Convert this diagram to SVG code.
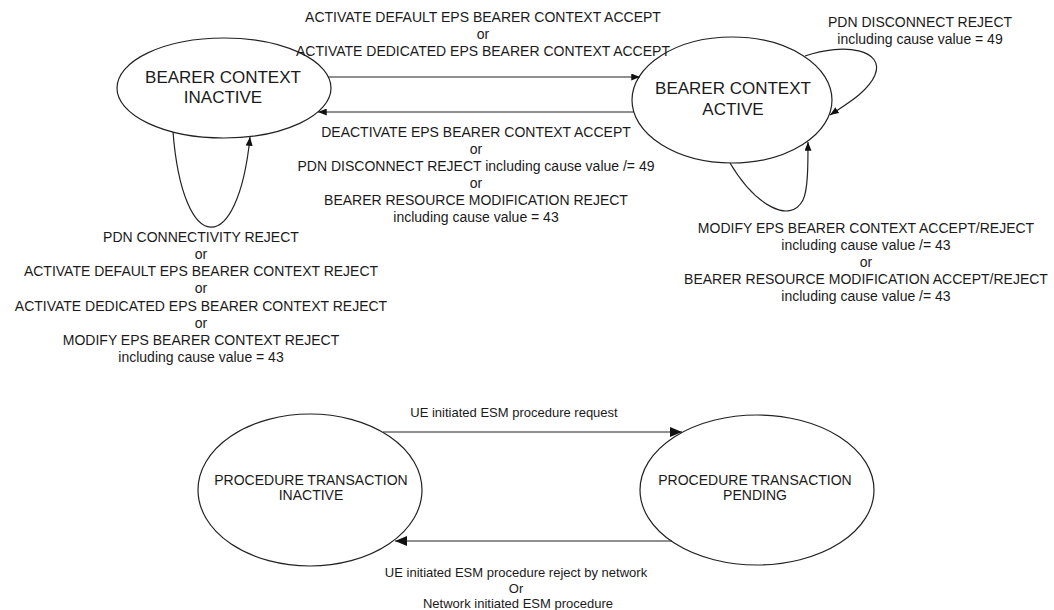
<svg xmlns="http://www.w3.org/2000/svg" width="1054" height="610" viewBox="0 0 1054 610">
  <style>
    .state { fill: #ffffff; stroke: #222222; stroke-width: 1.2; }
    .edge { fill: none; stroke: #222222; stroke-width: 1.2; }
    .edge-arrow { marker-end: url(#arrowhead); }
    .edge-arrow-lg { marker-end: url(#arrowhead-lg); }
    .title { font-family: "Liberation Sans", Arial, sans-serif; font-size: 17px; fill: #1a1a1a; text-anchor: middle; }
    .title-sm { font-family: "Liberation Sans", Arial, sans-serif; font-size: 14px; fill: #1a1a1a; text-anchor: middle; }
    .label { font-family: "Liberation Sans", Arial, sans-serif; font-size: 14px; fill: #1a1a1a; text-anchor: middle; }
    .label-sm { font-family: "Liberation Sans", Arial, sans-serif; font-size: 13px; fill: #1a1a1a; text-anchor: middle; }
  </style>
  <defs>
    <marker id="arrowhead" viewBox="0 0 10 8" refX="10" refY="4" markerWidth="9" markerHeight="7" markerUnits="userSpaceOnUse" orient="auto">
      <path d="M0,0 L10,4 L0,8 Z" fill="#111111"/>
    </marker>
    <marker id="arrowhead-lg" viewBox="0 0 12 10" refX="12" refY="5" markerWidth="12" markerHeight="10" markerUnits="userSpaceOnUse" orient="auto">
      <path d="M0,0 L12,5 L0,10 Z" fill="#111111"/>
    </marker>
  </defs>

  <rect width="1054" height="610" fill="#ffffff"/>

  <!-- EPS bearer context states -->
  <g id="bearer-context-inactive">
    <ellipse class="state" cx="224" cy="88" rx="107" ry="50"/>
    <text class="title" x="223" y="83">BEARER CONTEXT</text>
    <text class="title" x="223" y="103">INACTIVE</text>
  </g>
  <g id="bearer-context-active">
    <ellipse class="state" cx="732" cy="100" rx="100" ry="63"/>
    <text class="title" x="733" y="94">BEARER CONTEXT</text>
    <text class="title" x="733" y="115">ACTIVE</text>
  </g>

  <!-- Procedure transaction states -->
  <g id="procedure-transaction-inactive">
    <ellipse class="state" cx="310" cy="490" rx="112" ry="76"/>
    <text class="title-sm" x="311" y="485">PROCEDURE TRANSACTION</text>
    <text class="title-sm" x="311" y="500">INACTIVE</text>
  </g>
  <g id="procedure-transaction-pending">
    <ellipse class="state" cx="757" cy="490" rx="117" ry="75"/>
    <text class="title-sm" x="755" y="485">PROCEDURE TRANSACTION</text>
    <text class="title-sm" x="755" y="500">PENDING</text>
  </g>

  <!-- Transitions -->
  <g id="connectors">
    <line class="edge edge-arrow" x1="328" y1="77" x2="640" y2="77"/>
    <line class="edge edge-arrow" x1="634" y1="112" x2="318" y2="112"/>
    <path class="edge edge-arrow" d="M173,132 C183,258 238,258 250,137"/>
    <path class="edge edge-arrow" d="M805,56 C845,42 885,50 875,75 C868,92 845,105 830,115"/>
    <path class="edge edge-arrow" d="M730,163 C755,205 790,225 803,200 C808,190 808,165 808,142"/>
    <line class="edge edge-arrow-lg" x1="383" y1="432" x2="682" y2="432"/>
    <line class="edge edge-arrow-lg" x1="672" y1="541" x2="395" y2="541"/>
  </g>

  <!-- Transition labels -->
  <g id="labels">
    <text class="label" x="483" y="22">ACTIVATE DEFAULT EPS BEARER CONTEXT ACCEPT</text>
    <text class="label" x="483" y="39">or</text>
    <text class="label" x="483" y="56">ACTIVATE DEDICATED EPS BEARER CONTEXT ACCEPT</text>

    <text class="label" x="476" y="137">DEACTIVATE EPS BEARER CONTEXT ACCEPT</text>
    <text class="label" x="476" y="154">or</text>
    <text class="label" x="476" y="171">PDN DISCONNECT REJECT including cause value /= 49</text>
    <text class="label" x="476" y="188">or</text>
    <text class="label" x="476" y="205">BEARER RESOURCE MODIFICATION REJECT</text>
    <text class="label" x="476" y="222">including cause value = 43</text>

    <text class="label" x="920" y="27">PDN DISCONNECT REJECT</text>
    <text class="label" x="920" y="44">including cause value = 49</text>

    <text class="label" x="866" y="233">MODIFY EPS BEARER CONTEXT ACCEPT/REJECT</text>
    <text class="label" x="866" y="250">including cause value /= 43</text>
    <text class="label" x="866" y="267">or</text>
    <text class="label" x="866" y="284">BEARER RESOURCE MODIFICATION ACCEPT/REJECT</text>
    <text class="label" x="866" y="301">including cause value /= 43</text>

    <text class="label" x="201" y="242">PDN CONNECTIVITY REJECT</text>
    <text class="label" x="201" y="259">or</text>
    <text class="label" x="201" y="276">ACTIVATE DEFAULT EPS BEARER CONTEXT REJECT</text>
    <text class="label" x="201" y="293">or</text>
    <text class="label" x="201" y="311">ACTIVATE DEDICATED EPS BEARER CONTEXT REJECT</text>
    <text class="label" x="201" y="328">or</text>
    <text class="label" x="201" y="345">MODIFY EPS BEARER CONTEXT REJECT</text>
    <text class="label" x="201" y="362">including cause value = 43</text>

    <text class="label-sm" x="514" y="417">UE initiated ESM procedure request</text>
    <text class="label-sm" x="516" y="577">UE initiated ESM procedure reject by network</text>
    <text class="label-sm" x="516" y="593">Or</text>
    <text class="label-sm" x="518" y="608">Network initiated ESM procedure</text>
  </g>
</svg>
